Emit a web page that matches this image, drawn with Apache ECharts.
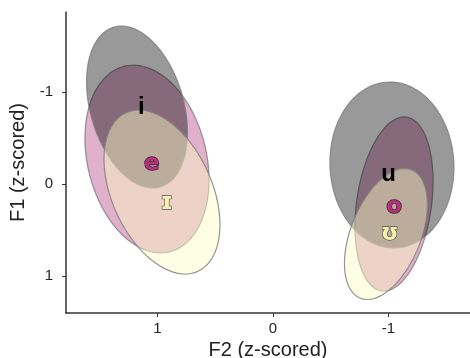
<!DOCTYPE html>
<html><head><meta charset="utf-8">
<script src="https://cdn.jsdelivr.net/npm/echarts@6/dist/echarts.min.js"></script>
<style>html,body{margin:0;padding:0;background:#fff}#c{width:470px;height:358px}</style>
</head><body><div id="c"></div>
<script>
// Vowel categories
const vowels = ['i', 'e', 'ɪ', 'u', 'o', 'ʊ'];
// Vowel means (label positions), z-scored
const meanF2 = [1.14, 1.05, 0.92, -1.00, -1.05, -1.01];
const meanF1 = [-0.84, -0.22, 0.20, -0.11, 0.25, 0.54];
// Ellipse centres, half-extents (F2, F1) and F2-F1 correlation
const ellF2 = [1.177, 1.091, 0.961, -1.030, -1.048, -0.978];
const ellF1 = [-0.840, -0.275, 0.084, -0.210, 0.214, 0.540];
const ellW = [0.437, 0.537, 0.502, 0.537, 0.338, 0.359];
const ellH = [0.880, 1.020, 0.891, 0.902, 0.946, 0.712];
const ellR = [-0.31, -0.22, -0.40, -0.03, 0.26, 0.45];
// Axis ticks
const xTicks = [1, 0, -1];
const yTicks = [-1, 0, 1];

// vowel group: 0 = gray, 1 = pink, 2 = yellow
const group = [0, 1, 2, 0, 1, 2];
const fills = ['rgba(0,0,0,0.4)', 'rgba(178,58,128,0.4)', 'rgba(253,253,195,0.45)'];
const textFill = ['#000', '#b3307c', '#f3f2b0'];
const textStroke = [null, '#3a2030', '#555'];
const zOrder = [2, 1, 3];

function ellipseSeries(g) {
  const data = [];
  vowels.forEach((v, i) => {
    if (group[i] === g) data.push([ellF2[i], ellF1[i], ellW[i], ellH[i], ellR[i]]);
  });
  return {
    type: 'custom', z: zOrder[g], silent: true, data,
    renderItem(params, api) {
      const cx = api.value(0), cy = api.value(1), w = api.value(2), h = api.value(3), r = api.value(4);
      const s = Math.sqrt(1 - r * r);
      const pts = [];
      for (let k = 0; k < 120; k++) {
        const t = 2 * Math.PI * k / 120;
        pts.push(api.coord([cx + w * Math.cos(t), cy + h * (r * Math.cos(t) + s * Math.sin(t))]));
      }
      return { type: 'polygon', shape: { points: pts },
        style: { fill: fills[g], stroke: 'rgba(128,128,128,0.85)', lineWidth: 1.2 } };
    }
  };
}

const labelSeries = {
  type: 'custom', z: 10, silent: true,
  data: vowels.map((v, i) => [meanF2[i], meanF1[i], i]),
  renderItem(params, api) {
    const i = api.value(2);
    const p = api.coord([api.value(0), api.value(1)]);
    const g = group[i];
    const style = {
      text: vowels[i], x: 0, y: 0, align: 'center', verticalAlign: 'middle',
      font: g === 0 ? 'bold 24px "Liberation Sans"' : 'bold 23px "DejaVu Sans"',
      fill: textFill[g]
    };
    if (textStroke[g]) { style.stroke = textStroke[g]; style.lineWidth = 1.3; }
    return { type: 'text', x: p[0], y: p[1], style };
  }
};

const chart = echarts.init(document.getElementById('c'));
chart.setOption({
  animation: false,
  grid: { left: 66, right: 0, top: 12, bottom: 45, containLabel: false, outerBoundsMode: 'none' },
  xAxis: {
    type: 'value', inverse: true, min: -1.706, max: 1.792, position: 'bottom',
    name: 'F2 (z-scored)', nameLocation: 'middle', nameGap: 26,
    nameTextStyle: { fontFamily: 'Liberation Sans', fontSize: 20, color: '#222' },
    axisLine: { show: true, onZero: false, lineStyle: { color: '#333', width: 1.5 } },
    axisTick: { show: true, length: 4, customValues: xTicks, lineStyle: { color: '#333' } },
    axisLabel: { customValues: xTicks, fontFamily: 'Liberation Sans', fontSize: 15, color: '#222', margin: 8 },
    splitLine: { show: false }
  },
  yAxis: {
    type: 'value', inverse: true, min: -1.873, max: 1.399, position: 'left',
    name: 'F1 (z-scored)', nameLocation: 'middle', nameGap: 33, nameRotate: 90,
    nameTextStyle: { fontFamily: 'Liberation Sans', fontSize: 20, color: '#222' },
    axisLine: { show: true, onZero: false, lineStyle: { color: '#333', width: 1.5 } },
    axisTick: { show: true, length: 4, customValues: yTicks, lineStyle: { color: '#333' } },
    axisLabel: { customValues: yTicks, fontFamily: 'Liberation Sans', fontSize: 15, color: '#222', margin: 13 },
    splitLine: { show: false }
  },
  series: [ellipseSeries(1), ellipseSeries(0), ellipseSeries(2), labelSeries]
});
</script></body></html>
